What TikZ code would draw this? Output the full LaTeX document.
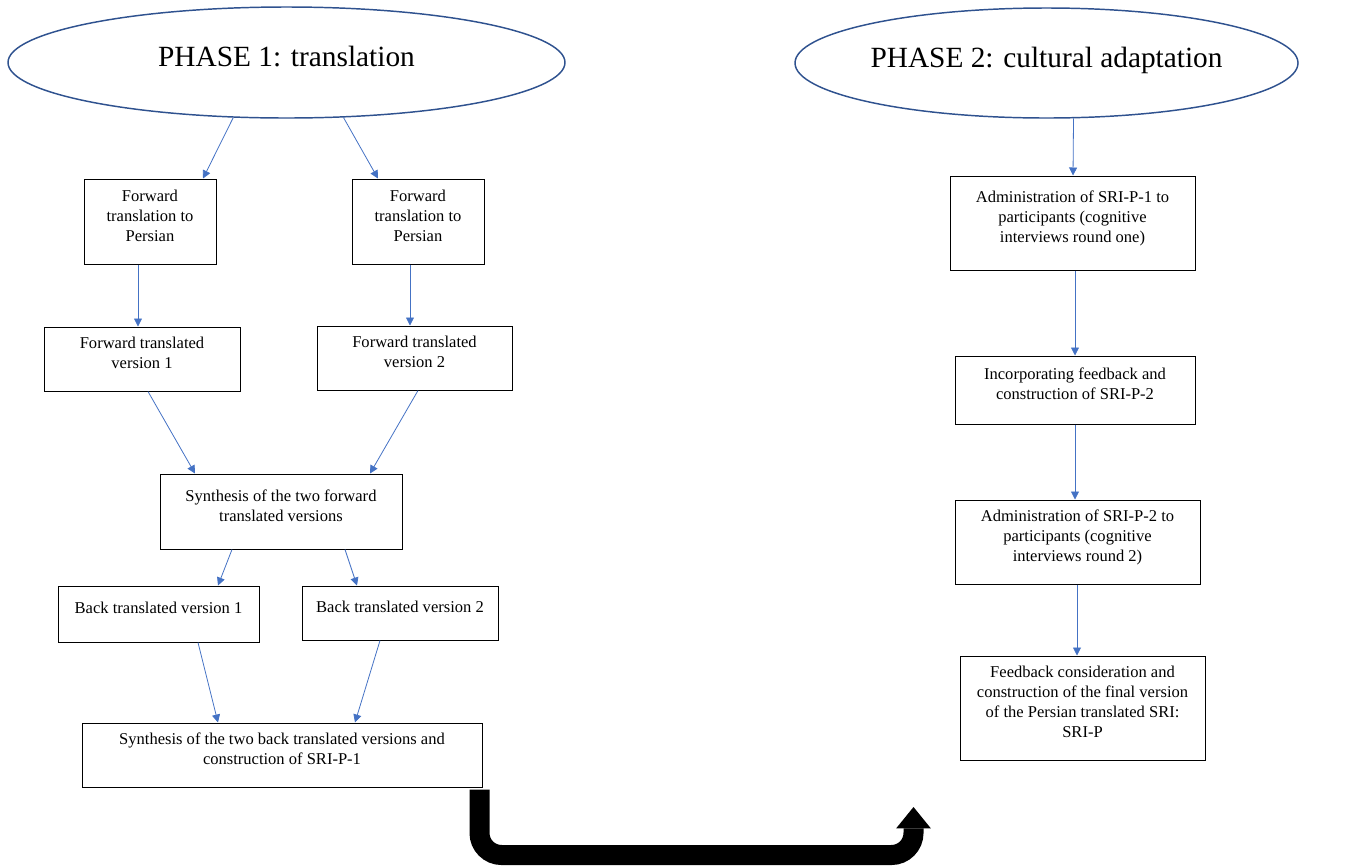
\documentclass[tikz,border=0pt]{standalone}
\usepackage{fontspec}
\setmainfont{Liberation Serif}
\usetikzlibrary{arrows.meta,calc,positioning,shapes.geometric}
\definecolor{flowblue}{RGB}{68,114,196}
\definecolor{phaseblue}{RGB}{47,82,143}

\begin{document}
\begin{tikzpicture}[x=0.75pt,y=-0.75pt,
      phase/.style={draw=phaseblue,line width=1.1pt,ellipse,inner sep=0pt,
        font=\fontsize{22}{26}\selectfont,text depth=9pt},
      stage/.style={draw,line width=0.75pt,align=center,inner sep=3pt,
        font=\fontsize{12.4}{15}\selectfont,text depth=9pt},
      flow/.style={flowblue,line width=0.6pt,-{Triangle[length=6pt,width=6pt]}},
      bigturn/.style={line width=15pt,rounded corners=16.5pt,
        -{Triangle[length=16pt,width=26pt,line width=0pt]}}]
      \useasboundingbox (0,0) rectangle (1355,865);
      \node[phase,minimum width=417.75pt,minimum height=83.25pt] (ph1) at (286.5,62.5) {PHASE 1: translation};
      \node[phase,minimum width=377.25pt,minimum height=82.5pt] (ph2) at (1046.5,63) {PHASE 2: cultural adaptation};
      \node[stage,minimum width=99pt,minimum height=63.75pt] (fwd1) at (150,221.5) {Forward\\translation to\\Persian};
      \node[stage,minimum width=99pt,minimum height=63.75pt] (fwd2) at (418,221.5) {Forward\\translation to\\Persian};
      \node[stage,minimum width=147pt,minimum height=48pt] (fv1) at (142,359) {Forward translated\\version 1};
      \node[stage,minimum width=146.25pt,minimum height=48pt] (fv2) at (414.5,358) {Forward translated\\version 2};
      \node[stage,minimum width=181.5pt,minimum height=56.25pt] (synf) at (281,511.5) {Synthesis of the two forward\\translated versions};
      \node[stage,minimum width=150.75pt,minimum height=42pt] (bt1) at (158.5,614) {Back translated version 1};
      \node[stage,minimum width=147pt,minimum height=40.5pt] (bt2) at (400,613) {Back translated version 2};
      \node[stage,minimum width=300pt,minimum height=48pt] (synb) at (282,755) {Synthesis of the two back translated versions and\\construction of SRI-P-1};
      \node[stage,minimum width=183.75pt,minimum height=70.5pt] (adm1) at (1072.5,223) {Administration of SRI-P-1 to\\participants (cognitive\\interviews round one)};
      \node[stage,minimum width=180pt,minimum height=51pt] (feed) at (1075,390) {Incorporating feedback and\\construction of SRI-P-2};
      \node[stage,minimum width=183.75pt,minimum height=63pt] (adm2) at (1077.5,542) {Administration of SRI-P-2 to\\participants (cognitive\\interviews round 2)};
      \node[stage,minimum width=183.75pt,minimum height=78pt] (final) at (1082.5,708) {Feedback consideration and\\construction of the final version\\of the Persian translated SRI:\\SRI-P};
      \coordinate (ph2in) at (913.5,807);
      \draw[flow] (ph1.226) -- ($(fwd1.north)+(53,0)$);
      \draw[flow] (ph1.316) -- ($(fwd2.north)+(-40,0)$);
      \draw[flow] ($(fwd1.south)+(-12,0)$) -- ($(fv1.north)+(-4,0)$);
      \draw[flow] ($(fwd2.south)+(-8,0)$) -- ($(fv2.north)+(-4.5,0)$);
      \draw[flow] ($(fv1.south)+(6,0)$) -- ($(synf.north)+(-86,0)$);
      \draw[flow] ($(fv2.south)+(3.5,0)$) -- ($(synf.north)+(89,0)$);
      \draw[flow] ($(synf.south)+(-49,0)$) -- ($(bt1.north)+(59.5,0)$);
      \draw[flow] ($(synf.south)+(64,0)$) -- ($(bt2.north)+(-43,0)$);
      \draw[flow] ($(bt1.south)+(39.5,0)$) -- ($(synb.north)+(-64,0)$);
      \draw[flow] ($(bt2.south)+(-20,0)$) -- ($(synb.north)+(73,0)$);
      \draw[flow] (ph2.296) -- ($(adm1.north)+(0.5,0)$);
      \draw[flow] ($(adm1.south)+(2.5,0)$) -- (feed.north);
      \draw[flow] (feed.south) -- ($(adm2.north)+(-2.5,0)$);
      \draw[flow] ($(adm2.south)+(-0.5,0)$) -- ($(final.north)+(-5.5,0)$);
      \draw[bigturn] ($(synb.south east)+(-3,2)$) |- ($(ph2in)+(0,48)$) -- (ph2in);
    \end{tikzpicture}
\end{document}
